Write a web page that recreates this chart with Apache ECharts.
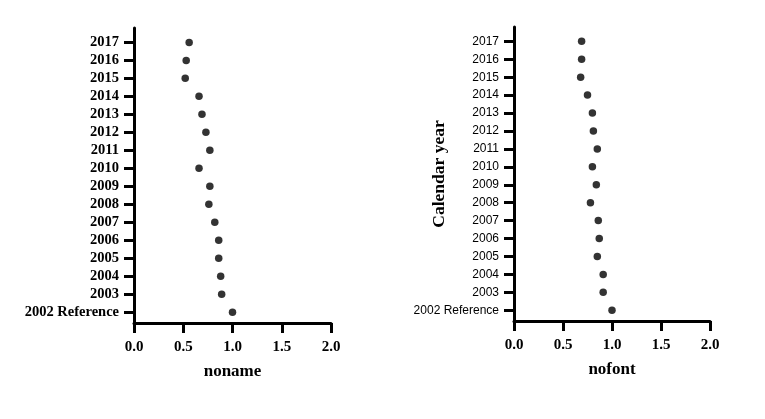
<!DOCTYPE html>
<html>
<head>
<meta charset="utf-8">
<script src="https://cdn.jsdelivr.net/npm/echarts@6/dist/echarts.min.js"></script>
<style>
html,body{margin:0;padding:0;background:#fff;}
#chartA{position:absolute;left:0;top:0;width:383px;height:419px;}
#chartB{position:absolute;left:383px;top:0;width:382px;height:419px;}
</style>
</head>
<body>
<div id="chartA"></div>
<div id="chartB"></div>
<script>
const categories = ['2002 Reference','2003','2004','2005','2006','2007','2008','2009','2010','2011','2012','2013','2014','2015','2016','2017'];
const orEst = [1.00,0.89,0.88,0.86,0.86,0.82,0.76,0.77,0.66,0.77,0.73,0.69,0.66,0.52,0.53,0.56];
const hrEst = [1.00,0.91,0.91,0.85,0.87,0.86,0.78,0.84,0.80,0.85,0.81,0.80,0.75,0.68,0.69,0.69];
const FONT = "'Liberation Serif', 'Times New Roman', serif";
const idx = categories.map((_, i) => i);

function buildOption(est, grid, variant) {
  const yLabel = {color: '#000', margin: 15, customValues: idx, formatter: v => categories[Math.round(v)]};
  if (variant !== 'nofont') Object.assign(yLabel, {fontFamily: FONT, fontWeight: 'bold', fontSize: 14.5});
  const y = {
    type: 'value', min: -0.6, max: 15.8,
    axisLine: {show: true, onZero: false, lineStyle: {color: '#000', width: 3}},
    axisTick: {show: true, length: 10, customValues: idx, lineStyle: {color: '#000', width: 3}},
    axisLabel: yLabel,
    splitLine: {show: false}
  };
  if (variant !== 'noname') Object.assign(y, {name: 'Calendar year', nameLocation: 'middle', nameGap: 66, nameMoveOverlap: false,
      nameTextStyle: {color: '#000', fontFamily: FONT, fontWeight: 'bold', fontSize: 17.5}});
  return {
    animation: false,
    grid: grid,
    xAxis: {
      type: 'value', min: 0, max: 2, interval: 0.5,
      axisLine: {show: true, onZero: false, lineStyle: {color: '#000', width: 3}},
      axisTick: {show: true, length: 10, lineStyle: {color: '#000', width: 3}},
      axisLabel: {color: '#000', fontFamily: FONT, fontWeight: 'bold', fontSize: 15, margin: 17, formatter: v => v.toFixed(1)},
      splitLine: {show: false},
      name: variant, nameLocation: 'middle', nameGap: 40, nameMoveOverlap: false,
      nameTextStyle: {color: '#000', fontFamily: FONT, fontWeight: 'bold', fontSize: 17}
    },
    yAxis: y,
    series: [{type: 'scatter', data: est.map((v, i) => [v, i]), symbolSize: 7.5, itemStyle: {color: '#000'}}]
  };
}
echarts.init(document.getElementById('chartA')).setOption(buildOption(orEst, {left: 134, right: 52, top: 28, bottom: 96}, 'noname'));
echarts.init(document.getElementById('chartB')).setOption(buildOption(hrEst, {left: 131, right: 55, top: 27, bottom: 98}, 'nofont'));
</script>
</body>
</html>
